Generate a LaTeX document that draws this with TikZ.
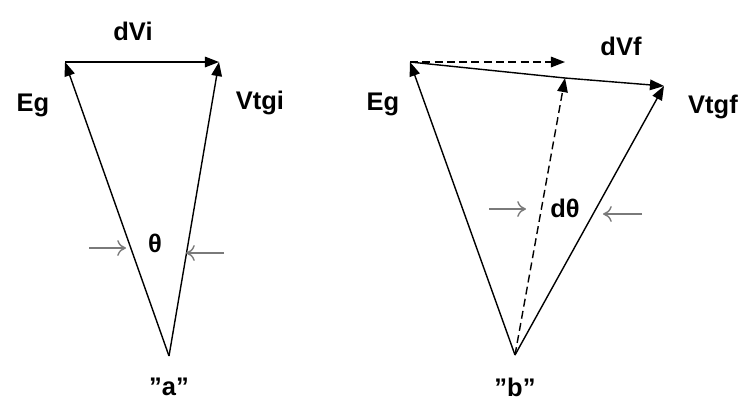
\documentclass[tikz,border=0pt]{standalone}
\usepackage{fontspec}
\setmainfont{Liberation Sans}[Ligatures=ResetAll]
\usetikzlibrary{arrows.meta}
\definecolor{pointer}{HTML}{7A7A7A}

\begin{document}
\begin{tikzpicture}[x=0.02cm, y=-0.02cm,
        every node/.style={font=\fontsize{14.5}{16}\selectfont\bfseries, inner sep=0pt},
        vec/.style={thick, -{Triangle[length=8pt, width=6pt]}},
        longdash/.style={dash pattern=on 4.5pt off 2.5pt},
        pointer arrow/.style={pointer, thick, -{To[length=5pt, width=9pt]}}]
      \useasboundingbox (0,0) rectangle (751,407);
      % case "a"
      \coordinate (apexA) at (169,356);
      \coordinate (EgA) at (65,62);
      \coordinate (VtA) at (219,62);
      \draw[vec] (apexA) -- (EgA);
      \draw[vec] (apexA) -- (VtA);
      \draw[vec] (EgA) -- (VtA);
      \node (dVi) at (133,31) {dVi};
      \node (EgAlbl) at (33,105) {Eg};
      \node (VtAlbl) at (260,103) {Vtgi};
      \node (thetaA) at (155,243) {θ};
      \coordinate (thA1) at (89,248);
      \coordinate (thA2) at (224,253);
      \draw[pointer arrow] (thA1) -- (126,248);
      \draw[pointer arrow] (thA2) -- (186,253);
      \node (capA) at (169,387) {"a"};
      % case "b"
      \coordinate (apexB) at (515,355);
      \coordinate (EgB) at (410,62);
      \coordinate (midB) at (565,78);
      \coordinate (VtB) at (664,86);
      \draw[vec] (apexB) -- (EgB);
      \draw[vec] (apexB) -- (VtB);
      \draw[vec, longdash] (EgB) -- (565,62);
      \draw[vec, longdash] (apexB) -- (midB);
      \draw[vec] (EgB) -- (midB) -- (VtB);
      \node (dVf) at (621,46) {dVf};
      \node (EgBlbl) at (383,104) {Eg};
      \node (VtBlbl) at (713,107) {Vtgf};
      \node (thetaB) at (565,208) {dθ};
      \coordinate (thB1) at (489,209);
      \coordinate (thB2) at (642,214);
      \draw[pointer arrow] (thB1) -- (526,209);
      \draw[pointer arrow] (thB2) -- (603,214);
      \node (capB) at (515,387) {"b"};
    \end{tikzpicture}
\end{document}
